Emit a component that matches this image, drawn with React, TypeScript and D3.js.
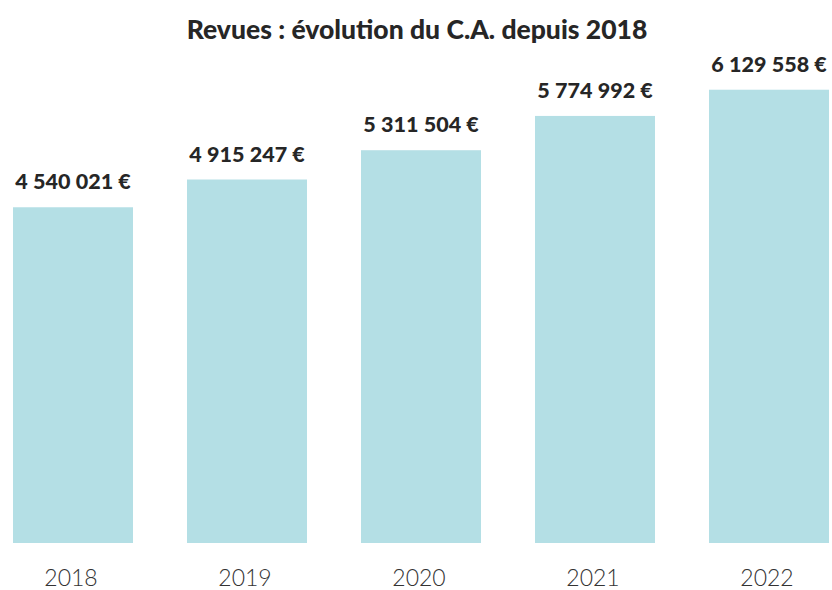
import React from "react";
import * as d3 from "d3";

const years = ["2018", "2019", "2020", "2021", "2022"];
const revenues = [4540021, 4915247, 5311504, 5774992, 6129558];
const titleText = "Revues : évolution du C.A. depuis 2018";

const W = 832;
const H = 590;

function fmt(v: number): string {
  const s = String(v);
  const parts: string[] = [];
  for (let i = s.length; i > 0; i -= 3) parts.unshift(s.slice(Math.max(0, i - 3), i));
  return parts.join("\u202F") + "\u00A0€";
}

export default function App() {
  const step = 174;
  const bw = 120;
  const xs = d3.scalePoint<string>().domain(years).range([13 + bw / 2, 13 + bw / 2 + step * 4]);
  const y = d3.scaleLinear().domain([0, 7342800]).range([543, 0]);
  return (
    <svg width={W} height={H} style={{ position: "absolute", left: 0, top: 0 }}>
      <rect width={W} height={H} fill="#ffffff" />
      <text x={417} y={39} textAnchor="middle" fontFamily="Lato" fontWeight={900} fontSize={26.5} fill="#262626">
        {titleText}
      </text>
      {years.map((yr, i) => {
        const cx = xs(yr)!;
        const v = revenues[i];
        return (
          <g key={yr}>
            <rect x={cx - bw / 2} y={y(v)} width={bw} height={y(0) - y(v)} fill="#b4dfe5" />
            <text x={cx} y={y(v) - 18} textAnchor="middle" fontFamily="Lato" fontWeight={900} fontSize={21.5} fill="#262626">
              {fmt(v)}
            </text>
            <text x={cx - 2} y={586} textAnchor="middle" fontFamily="Lato" fontWeight={300} fontSize={23} fill="#333333">
              {yr}
            </text>
          </g>
        );
      })}
    </svg>
  );
}
